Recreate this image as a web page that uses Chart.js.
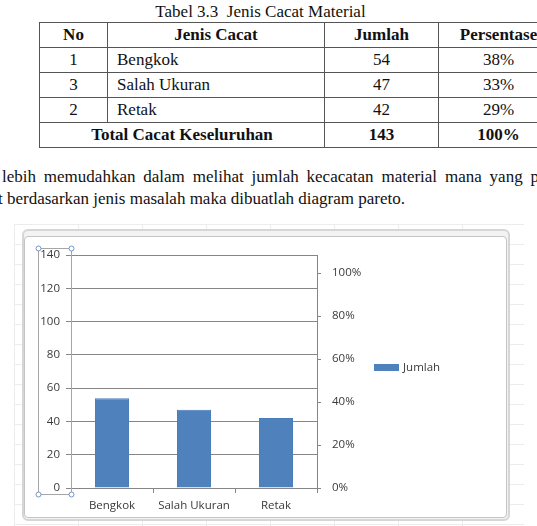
<!DOCTYPE html>
<html>
<head>
<meta charset="utf-8">
<script src="https://cdn.jsdelivr.net/npm/chart.js@4.4.0/dist/chart.umd.min.js"></script>
<style>
  html, body { margin: 0; padding: 0; }
  body { width: 537px; height: 526px; overflow: hidden; position: relative; background: #fff;
         font-family: "Liberation Serif", "Times New Roman", serif; color: #111; }
  .title { position: absolute; left: 0; top: 3px; width: 521px; text-align: center;
           font-size: 17px; line-height: 18px; white-space: pre; }
  table { position: absolute; left: 39px; top: 22px; border-collapse: collapse; table-layout: fixed;
          width: 519px; font-size: 17px; }
  td, th { border: 1px solid #555; height: 24px; padding: 0; line-height: 18px; text-align: center; }
  th { font-weight: bold; }
  td.jenis { text-align: left; padding-left: 9px; }
  .line { position: absolute; font-size: 17px; line-height: 20px; white-space: nowrap; }
  .sheet { position: absolute; left: 14px; top: 224px; width: 510px; height: 302px;
           background-image: linear-gradient(to right, #ececec 1px, transparent 1px),
                             linear-gradient(to bottom, #ececec 1px, transparent 1px);
           background-size: 64px 20px; }
  .frame { position: absolute; left: 22px; top: 229px; width: 484px; height: 288px;
           border: 2px solid #d6d6d6; border-radius: 6px; background: #f3f3f3; }
  .box { position: absolute; left: 24px; top: 236px; width: 481px; height: 280px;
         border: 1px solid #c4c4c4; border-radius: 4px; background: #fff; }
  canvas { position: absolute; left: 25px; top: 237px; }
</style>
</head>
<body>
<div class="title">Tabel 3.3  Jenis Cacat Material</div>
<table id="tbl">
  <colgroup><col style="width:68px"><col style="width:217px"><col style="width:114px"><col style="width:120px"></colgroup>
  <thead><tr><th>No</th><th>Jenis Cacat</th><th>Jumlah</th><th>Persentase</th></tr></thead>
  <tbody id="rows"></tbody>
</table>
<div class="line" style="left:2px; top:167px; word-spacing:3.6px;">lebih memudahkan dalam melihat jumlah kecacatan material mana yang p</div>
<div class="line" style="left:-2px; top:189px;">t berdasarkan jenis masalah maka dibuatlah diagram pareto.</div>

<div class="sheet"></div>
<div class="frame"></div>
<div class="box"></div>
<canvas id="paretoChart" width="481" height="280"></canvas>

<script>
// data from the table / chart
const categories = ["Bengkok", "Salah Ukuran", "Retak"];
const nomor = [1, 3, 2];
const jumlah = [54, 47, 42];
const persentase = ["38%", "33%", "29%"];
const totalLabel = "Total Cacat Keseluruhan";
const totalJumlah = 143;
const totalPersen = "100%";

const leftAxisMax = 140;
const leftAxisStep = 20;
const rightAxisMax = 1.084;
const rightAxisStep = 0.2;

// table rows
const tbody = document.getElementById("rows");
categories.forEach((cat, i) => {
  const tr = document.createElement("tr");
  tr.innerHTML = `<td>${nomor[i]}</td><td class="jenis">${cat}</td><td>${jumlah[i]}</td><td>${persentase[i]}</td>`;
  tbody.appendChild(tr);
});
const totalRow = document.createElement("tr");
totalRow.innerHTML = `<th colspan="2">${totalLabel}</th><th>${totalJumlah}</th><th>${totalPersen}</th>`;
tbody.appendChild(totalRow);

const gridColor = "#868686";
const labelColor = "#3a3a3a";
const labelFont = { family: "'Open Sans', sans-serif", size: 11.5 };

// selection box on the left axis + legend on the right
const excelBits = {
  id: "excelBits",
  afterDraw(chart) {
    const ctx = chart.ctx;
    const area = chart.chartArea;
    const yScale = chart.scales.y;

    const x0 = yScale.left + 13, x1 = yScale.right;
    const y0 = area.top - 7, y1 = area.bottom + 6;
    ctx.save();
    ctx.strokeStyle = "#a6a6a6";
    ctx.lineWidth = 1;
    ctx.strokeRect(x0 + 0.5, y0 + 0.5, x1 - x0, y1 - y0);
    ctx.strokeStyle = "#6f93c4";
    ctx.fillStyle = "#fff";
    [[x0, y0], [x1, y0], [x0, y1], [x1, y1]].forEach(p => {
      ctx.beginPath();
      ctx.arc(p[0] + 0.5, p[1] + 0.5, 2.5, 0, Math.PI * 2);
      ctx.fill();
      ctx.stroke();
    });

    const ds = chart.data.datasets[0];
    const lx = area.right + 57;
    const ly = (area.top + area.bottom) / 2 - 4;
    ctx.fillStyle = ds.backgroundColor;
    ctx.fillRect(lx, ly - 3.5, 25, 7);
    ctx.fillStyle = labelColor;
    ctx.font = "11.5px 'Open Sans', sans-serif";
    ctx.textBaseline = "middle";
    ctx.fillText(ds.label, lx + 29, ly);
    ctx.restore();
  }
};

new Chart(document.getElementById("paretoChart"), {
  type: "bar",
  data: {
    labels: categories,
    datasets: [{
      label: "Jumlah",
      data: jumlah,
      backgroundColor: "#4F81BD",
      borderColor: "#4A7EBB",
      borderWidth: 1,
      barPercentage: 0.415,
      categoryPercentage: 1,
      yAxisID: "y"
    }]
  },
  options: {
    responsive: false,
    animation: false,
    layout: { padding: { top: 18, left: 0, right: 0, bottom: 0 } },
    plugins: { legend: { display: false }, tooltip: { enabled: false } },
    scales: {
      x: {
        offset: true,
        grid: { drawOnChartArea: false, offset: true, tickLength: 5, color: gridColor },
        border: { color: gridColor },
        ticks: { color: labelColor, font: labelFont, padding: 6 },
        afterFit(s) { s.height = 29; }
      },
      y: {
        position: "left",
        min: 0,
        max: leftAxisMax,
        ticks: { stepSize: leftAxisStep, color: labelColor, font: labelFont, padding: 6 },
        grid: { color: gridColor, tickLength: 5 },
        border: { color: gridColor },
        afterFit(s) { s.width = 46; }
      },
      y2: {
        position: "right",
        min: 0,
        max: rightAxisMax,
        ticks: {
          stepSize: rightAxisStep,
          includeBounds: false,
          color: labelColor,
          font: labelFont,
          padding: 11,
          callback: v => Math.round(v * 100) + "%"
        },
        grid: { drawOnChartArea: false, tickLength: 4, color: gridColor },
        border: { color: gridColor },
        afterFit(s) { s.width = 189; }
      }
    }
  },
  plugins: [excelBits]
});
</script>
</body>
</html>
